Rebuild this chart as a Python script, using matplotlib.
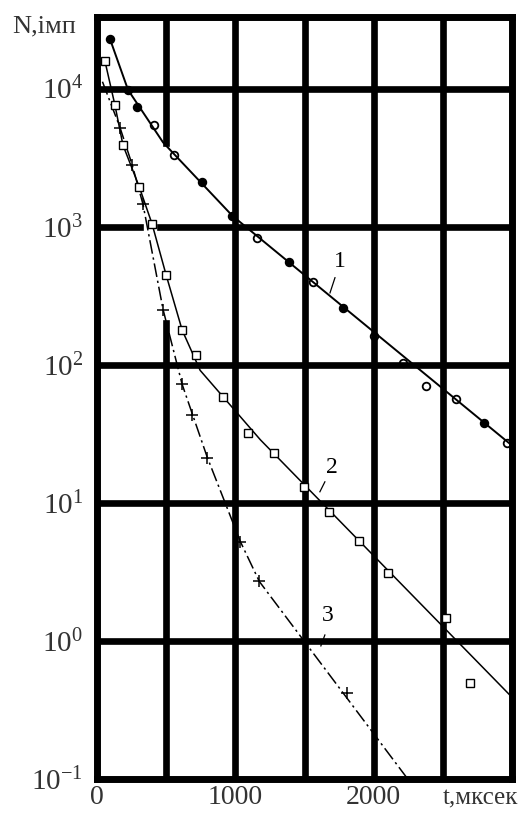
import matplotlib.pyplot as plt
import numpy as np

plt.rcParams['font.family'] = ['Liberation Serif', 'DejaVu Serif']
plt.rcParams['mathtext.fontset'] = 'custom'
plt.rcParams['mathtext.rm'] = 'Liberation Serif'
plt.rcParams['mathtext.it'] = 'Liberation Serif'

# curve 1: points (t, N) and the drawn fit
t1 = [94, 225, 290, 413, 558, 761, 978, 1159, 1391, 1558, 1775, 2000, 2210, 2377, 2594, 2797, 2964]
n1 = [23000, 9700, 7400, 5400, 3300, 2100, 1200, 830, 556, 400, 257, 162, 103, 70, 56, 38, 27]
filled1 = [1, 1, 1, 0, 0, 1, 1, 0, 1, 0, 1, 0, 0, 0, 0, 1, 0]
fit1_t = [94, 225, 478, 978, 2993]
fit1_n = [22900, 9770, 4070, 1200, 26.3]

# curve 2
t2 = [58, 130, 188, 305, 398, 500, 616, 718, 910, 1094, 1283, 1493, 1674, 1891, 2101, 2522, 2696]
n2 = [15800, 7600, 3900, 1950, 1050, 450, 178, 117, 58, 32, 23, 13, 8.6, 5.3, 3.1, 1.47, 0.5]
fit2_t = [58, 130, 188, 305, 398, 500, 616, 746, 1181, 3000]
fit2_n = [15800, 7600, 3900, 1950, 1050, 447, 178, 91, 28.6, 0.39]

# curve 3
t3 = [166, 254, 333, 478, 616, 688, 797, 1036, 1174, 1804]
n3 = [5200, 2800, 1450, 250, 72, 43, 21, 5.2, 2.7, 0.42]
fit3_t = [40, 166, 254, 333, 478, 616, 797, 1036, 1174, 2246]
fit3_n = [11200, 5250, 2820, 1450, 251, 72, 21.4, 5.25, 2.69, 0.1]

xticks = [0, 1000, 2000]
yticks = [1e-1, 1e0, 1e1, 1e2, 1e3, 1e4]
ylabels = ['$10^{-1}$', '$10^{0}$', '$10^{1}$', '$10^{2}$', '$10^{3}$', '$10^{4}$']

fig = plt.figure(figsize=(5.21, 8.16), dpi=100)
ax = fig.add_axes([0.186, 0.0453, 0.797, 0.934])
ax.set_yscale('log')
ax.set_xlim(0, 3000)
ax.set_ylim(0.1, 33000)

# heavy grid, with the gaps where the curves cross it
glw = 4.8
for xv in [1000, 1500, 2000, 2500]:
    ax.axvline(xv, color='black', lw=glw, zorder=1)
ax.axvline(500, ymin=0, ymax=0.598, color='black', lw=glw, zorder=1)
ax.axvline(500, ymin=0.835, ymax=1, color='black', lw=glw, zorder=1)
for yv in [1e0, 1e1, 1e2, 1e4]:
    ax.axhline(yv, color='black', lw=glw, zorder=1)
ax.axhline(1e3, xmin=0, xmax=0.104, color='black', lw=glw, zorder=1)
ax.axhline(1e3, xmin=0.152, xmax=1, color='black', lw=glw, zorder=1)

for s in ax.spines.values():
    s.set_linewidth(5)

# curves
ax.plot(fit1_t, fit1_n, color='black', lw=1.4, zorder=3)
for t, n, f in zip(t1, n1, filled1):
    ax.plot(t, n, 'o', ms=5.5, mec='black', mew=1.3,
            mfc='black' if f else 'none', zorder=4)

ax.plot(fit2_t, fit2_n, color='black', lw=1.1, zorder=3)
ax.plot(t2, n2, 's', ms=6, mfc='white', mec='black', mew=1.0, zorder=4)

ax.plot(fit3_t, fit3_n, color='black', lw=1.1, ls=(0, (9, 2.5, 1.5, 2.5)), zorder=3)
ax.plot(t3, n3, '+', ms=8, mec='black', mew=1.1, zorder=4)

# curve numbers with leaders
ax.text(1756, 560, '1', fontsize=17, ha='center', va='center')
ax.plot([1720, 1684], [10**2.63, 10**2.52], color='black', lw=0.9)
ax.text(1698, 18, '2', fontsize=17, ha='center', va='center')
ax.plot([1647, 1611], [10**1.152, 10**1.08], color='black', lw=0.9)
ax.text(1669, 1.52, '3', fontsize=17, ha='center', va='center')
ax.plot([1647, 1618], [10**0.043, 10**-0.036], color='black', lw=0.9)

ax.set_xticks(xticks)
ax.set_xticklabels([str(v) for v in xticks])
ax.set_yticks(yticks)
ax.set_yticklabels(ylabels)
ax.minorticks_off()
ax.tick_params(axis='both', length=0, colors='#333333')
ax.tick_params(axis='x', pad=4, labelsize=20)
ax.tick_params(axis='y', pad=10, labelsize=21)

ax.text(1.015, -0.026, 't,мксек', transform=ax.transAxes, ha='right', va='center',
        fontsize=18, color='#333333')
fig.text(0.023, 0.968, 'N,імп', fontsize=19, ha='left', va='center', color='#333333')

fig.savefig('out.png', dpi=100)
